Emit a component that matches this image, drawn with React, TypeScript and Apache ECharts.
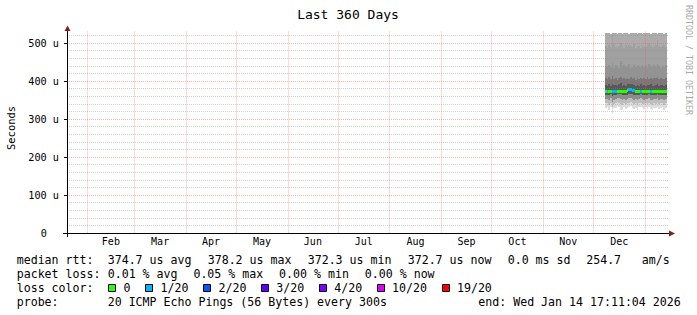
import React, { useEffect, useRef } from 'react';
import * as echarts from 'echarts';

// ---------- time range / axes ----------
const DAY_MS = 86400000;
const END_TIME = Date.UTC(2026, 0, 14, 17, 11, 4);
const START_TIME = END_TIME - 360 * DAY_MS;

const MONTH_NAMES = ['Feb', 'Mar', 'Apr', 'May', 'Jun', 'Jul', 'Aug', 'Sep', 'Oct', 'Nov', 'Dec'];
const MONTH_STARTS = [
  Date.UTC(2025, 1, 1), Date.UTC(2025, 2, 1), Date.UTC(2025, 3, 1), Date.UTC(2025, 4, 1),
  Date.UTC(2025, 5, 1), Date.UTC(2025, 6, 1), Date.UTC(2025, 7, 1), Date.UTC(2025, 8, 1),
  Date.UTC(2025, 9, 1), Date.UTC(2025, 10, 1), Date.UTC(2025, 11, 1), Date.UTC(2026, 0, 1),
];
const MONTH_MIDS = MONTH_NAMES.map((_, i) => (MONTH_STARTS[i] + MONTH_STARTS[i + 1]) / 2);

const Y_MAX = 530;
const Y_MAJOR = 100;
const Y_MINOR = 20;

// ---------- smoke data (daily, microseconds) ----------
const SMOKE_FIRST_DAY = Date.UTC(2025, 11, 8);
// sorted ping boundaries, lowest -> highest
const PING_B0 = [330, 331, 325, 332, 312, 328, 330, 333, 331, 324, 326, 331, 327, 330, 332, 333, 329, 326, 330, 325, 331, 332, 328, 326, 331, 327, 332, 326, 325, 330, 328, 332, 326, 330, 331, 325, 329];
const PING_B1 = [341, 342, 338, 343, 332, 340, 342, 344, 343, 339, 338, 342, 340, 341, 343, 344, 341, 339, 341, 338, 342, 343, 340, 339, 342, 340, 343, 339, 338, 342, 340, 343, 339, 341, 342, 338, 341];
const PING_B2 = [352, 353, 350, 354, 346, 351, 353, 355, 354, 352, 350, 353, 351, 352, 354, 355, 353, 351, 352, 350, 353, 354, 352, 351, 353, 352, 354, 351, 350, 353, 352, 354, 351, 352, 353, 350, 352];
const PING_B3 = [363, 364, 362, 365, 360, 363, 364, 366, 367, 366, 364, 363, 362, 364, 365, 366, 365, 363, 364, 362, 363, 365, 364, 362, 363, 364, 365, 363, 362, 364, 363, 365, 362, 364, 363, 362, 364];
const PING_B4 = [390, 388, 391, 387, 393, 389, 390, 386, 392, 394, 388, 390, 387, 391, 392, 393, 391, 389, 386, 390, 388, 391, 387, 389, 388, 390, 389, 391, 387, 388, 390, 392, 388, 389, 390, 387, 389];
const PING_B5 = [408, 405, 410, 404, 412, 406, 409, 403, 407, 411, 405, 408, 404, 409, 406, 410, 405, 407, 403, 408, 406, 409, 404, 407, 405, 410, 406, 408, 404, 407, 409, 411, 405, 408, 406, 404, 407];
const PING_B6 = [440, 436, 443, 438, 447, 435, 441, 439, 434, 452, 437, 442, 436, 440, 445, 433, 438, 441, 437, 443, 439, 436, 442, 438, 440, 435, 444, 439, 436, 441, 437, 446, 439, 434, 440, 437, 442];
const PING_B7 = [492, 488, 495, 490, 521, 497, 489, 486, 493, 500, 491, 487, 494, 489, 496, 492, 490, 498, 488, 493, 491, 487, 495, 490, 489, 494, 497, 492, 488, 490, 495, 508, 493, 489, 492, 496, 490];
const PING_B8 = [526, 527, 526, 525, 527, 526, 526, 525, 527, 526, 524, 526, 527, 526, 525, 526, 527, 526, 526, 525, 527, 526, 525, 526, 527, 526, 526, 524, 526, 527, 526, 525, 526, 527, 526, 525, 526];
const MEDIAN_RTT = [373, 374, 373, 374, 375, 373, 374, 374, 373, 374, 374, 373, 374, 377, 378, 378, 377, 376, 374, 373, 374, 375, 374, 373, 374, 374, 373, 374, 373, 374, 374, 373, 374, 373, 374, 373, 374];
const LOSS_COUNT = [0, 1, 0, 0, 1, 1, 1, 0, 0, 0, 0, 0, 0, 0, 1, 1, 1, 1, 0, 0, 0, 1, 0, 0, 0, 0, 0, 1, 0, 0, 0, 0, 0, 0, 0, 0, 0];

const BOUNDS = [PING_B0, PING_B1, PING_B2, PING_B3, PING_B4, PING_B5, PING_B6, PING_B7, PING_B8];
const LAYER_COLORS = ['#dcdcdc', '#bdbdbd', '#8c8c8c', '#585858', '#787878', '#939393', '#a0a0a0', '#acacac'];

// ---------- legend ----------
const LOSS_THRESHOLDS = [0, 1, 2, 3, 4, 10, 19];
const LOSS_LABELS = ['0', '1/20', '2/20', '3/20', '4/20', '10/20', '19/20'];
const LOSS_COLORS = ['#26ff00', '#00b8ff', '#0059ff', '#5e00ff', '#7e00ff', '#dd00ff', '#ff0000'];

const RTT_ITEMS = ['374.7 us avg', '378.2 us max', '372.3 us min', '372.7 us now', '0.0 ms sd', '254.7', 'am/s'];
const LOSS_ITEMS = ['0.01 % avg', '0.05 % max', '0.00 % min', '0.00 % now'];
const PROBE_TEXT = '20 ICMP Echo Pings (56 Bytes) every 300s';
const END_TEXT = 'end: Wed Jan 14 17:11:04 2026';
const TITLE = 'Last 360 Days';
const Y_NAME = 'Seconds';
const WATERMARK = 'RRDTOOL / TOBI OETIKER';

// ---------- layout ----------
const MONO = '"DejaVu Sans Mono", monospace';
const CHAR_W = 6.97;
const RTT_X = [107.7, 207.7, 307.7, 407.7, 507.7, 586.2, 641.7];
const ROW_Y = [260, 273.6, 287.6, 301.6];

function lossColor(n: number) {
  let idx = 0;
  for (let i = 0; i < LOSS_THRESHOLDS.length; i++) if (n >= LOSS_THRESHOLDS[i]) idx = i;
  return LOSS_COLORS[idx];
}

function legendText(text: string, x: number, y: number, extra: any = {}) {
  return {
    type: 'text',
    x,
    y,
    z: 20,
    silent: true,
    style: {
      text,
      fontFamily: MONO,
      fontSize: 11.6,
      fill: '#000',
      align: 'left',
      verticalAlign: 'middle',
      textAlign: 'left',
      textVerticalAlign: 'middle',
      ...extra,
    },
  };
}

export default function App() {
  const ref = useRef<HTMLDivElement>(null);

  useEffect(() => {
    if (!ref.current) return;
    const chart = echarts.init(ref.current, undefined, { renderer: 'svg' });

    const smokeData = PING_B0.map((_, i) => [SMOKE_FIRST_DAY + i * DAY_MS, ...BOUNDS.map((b) => b[i])]);
    const medianData = MEDIAN_RTT.map((v, i) => [SMOKE_FIRST_DAY + i * DAY_MS, v, LOSS_COUNT[i]]);

    const MAJOR_COLOR = 'rgba(245,79,79,0.42)';
    const MINOR_COLOR = 'rgba(140,140,140,0.4)';
    const minorColors: string[] = [];
    for (let v = 0; v <= Y_MAX; v += Y_MINOR) minorColors.push(v % Y_MAJOR === 0 ? 'rgba(0,0,0,0)' : MINOR_COLOR);

    const graphics: any[] = [];
    graphics.push({
      type: 'text', x: 348, y: 14, z: 20, silent: true,
      style: { text: TITLE, fontFamily: MONO, fontSize: 13, fill: '#000', align: 'center', verticalAlign: 'middle', textAlign: 'center', textVerticalAlign: 'middle' },
    });
    graphics.push({
      type: 'text', x: 10.5, y: 128, rotation: Math.PI / 2, z: 20, silent: true,
      style: { text: Y_NAME, fontFamily: MONO, fontSize: 10.4, fill: '#000', align: 'center', verticalAlign: 'middle', textAlign: 'center', textVerticalAlign: 'middle' },
    });
    graphics.push({
      type: 'text', x: 688.5, y: 60, rotation: -Math.PI / 2, z: 20, silent: true,
      style: { text: WATERMARK, fontFamily: MONO, fontSize: 8.3, fill: '#aaaaaa', align: 'center', verticalAlign: 'middle', textAlign: 'center', textVerticalAlign: 'middle' },
    });
    // axis extensions + arrows
    graphics.push({ type: 'line', z: 20, silent: true, shape: { x1: 63, y1: 233.5, x2: 670, y2: 233.5 }, style: { stroke: '#000', lineWidth: 1 } });
    graphics.push({ type: 'line', z: 20, silent: true, shape: { x1: 67.5, y1: 237, x2: 67.5, y2: 29 }, style: { stroke: '#000', lineWidth: 1 } });
    graphics.push({ type: 'polygon', z: 21, silent: true, shape: { points: [[669, 230.5], [669, 236.5], [675, 233.5]] }, style: { fill: '#7f1f1f' } });
    graphics.push({ type: 'polygon', z: 21, silent: true, shape: { points: [[64.5, 31], [70.5, 31], [67.5, 25.5]] }, style: { fill: '#7f1f1f' } });

    // legend rows
    graphics.push(legendText('median rtt:', 16.7, ROW_Y[0]));
    RTT_ITEMS.forEach((t, i) => graphics.push(legendText(t, RTT_X[i], ROW_Y[0])));
    graphics.push(legendText('packet loss:', 16.7, ROW_Y[1]));
    LOSS_ITEMS.forEach((t, i) => graphics.push(legendText(t, 107.7 + i * (10 * CHAR_W + 16), ROW_Y[1])));
    graphics.push(legendText('loss color:', 16.7, ROW_Y[2]));
    let sx = 108.3;
    LOSS_LABELS.forEach((t, i) => {
      graphics.push({
        type: 'rect', z: 20, silent: true,
        shape: { x: Math.round(sx) + 0.5, y: 284.5, width: 7, height: 7 },
        style: { fill: LOSS_COLORS[i], stroke: '#000', lineWidth: 1 },
      });
      graphics.push(legendText(t, sx + 15.3, ROW_Y[2]));
      sx = sx + 15.3 + t.length * CHAR_W + 14.7;
    });
    graphics.push(legendText('probe:', 16.7, ROW_Y[3]));
    graphics.push(legendText(PROBE_TEXT, 107.7, ROW_Y[3]));
    graphics.push(legendText(END_TEXT, 478.3, ROW_Y[3]));

    const option: any = {
      animation: false,
      backgroundColor: '#ffffff',
      grid: { left: 67, right: 29, top: 31.6, bottom: 82, containLabel: false, outerBoundsMode: 'none' },
      xAxis: {
        type: 'value',
        min: START_TIME,
        max: END_TIME,
        z: 5,
        axisLine: { show: true, lineStyle: { color: '#000', width: 1 } },
        axisTick: { show: false, customValues: MONTH_STARTS.slice(0, 12) },
        axisLabel: {
          customValues: MONTH_MIDS,
          margin: 3,
          fontFamily: MONO,
          fontSize: 10,
          color: '#000',
          hideOverlap: false,
          formatter: (v: number) => {
            let best = 0;
            let bd = Infinity;
            MONTH_MIDS.forEach((m, i) => {
              const d = Math.abs(m - v);
              if (d < bd) { bd = d; best = i; }
            });
            return MONTH_NAMES[best];
          },
        },
        splitLine: { show: true, lineStyle: { color: MAJOR_COLOR, type: [1, 1], width: 1 } },
      },
      yAxis: [
        {
          type: 'value',
          min: 0,
          max: Y_MAX,
          interval: Y_MAJOR,
          z: 6,
          axisLine: { show: true, lineStyle: { color: '#000', width: 1 } },
          axisTick: { show: true, length: 3, lineStyle: { color: '#000' } },
          axisLabel: {
            margin: 8,
            fontFamily: MONO,
            fontSize: 10.2,
            color: '#000',
            showMaxLabel: false,
            formatter: (v: number) => (v === 0 ? '{z|0}' : v % Y_MAJOR === 0 ? `${v} u` : ''),
            rich: { z: { fontFamily: MONO, fontSize: 10.2, color: '#000', padding: [0, 12, 0, 0] } },
          },
          splitLine: { show: true, showMaxLine: false, lineStyle: { color: MAJOR_COLOR, type: [1, 1], width: 1 } },
        },
        {
          type: 'value',
          min: 0,
          max: Y_MAX,
          interval: Y_MINOR,
          z: 5,
          axisLine: { show: false },
          axisTick: { show: false },
          axisLabel: { show: false },
          splitLine: { show: true, showMaxLine: false, lineStyle: { color: minorColors, type: [1, 1], width: 1 } },
        },
      ],
      series: [
        {
          type: 'custom',
          z: 1,
          silent: true,
          xAxisIndex: 0,
          yAxisIndex: 0,
          encode: { x: 0, y: [1, 2, 3, 4, 5, 6, 7, 8, 9] },
          data: smokeData,
          renderItem: (params: any, api: any) => {
            const t = api.value(0);
            const t1 = Math.min(t + DAY_MS, END_TIME);
            const xs = Math.round(api.coord([t, 0])[0]);
            const xe = Math.round(api.coord([t1, 0])[0]);
            const children: any[] = [];
            for (let k = 0; k < LAYER_COLORS.length; k++) {
              const y0 = Math.round(api.coord([t, api.value(1 + k)])[1]);
              const y1 = Math.round(api.coord([t, api.value(2 + k)])[1]);
              children.push({
                type: 'rect',
                shape: { x: xs, y: y1, width: xe - xs, height: Math.max(0, y0 - y1) },
                style: { fill: LAYER_COLORS[k] },
              });
            }
            return { type: 'group', children };
          },
        },
        {
          type: 'custom',
          z: 2,
          silent: true,
          xAxisIndex: 0,
          yAxisIndex: 0,
          encode: { x: 0, y: 1 },
          data: medianData,
          renderItem: (params: any, api: any) => {
            const t = api.value(0);
            const t1 = Math.min(t + DAY_MS, END_TIME);
            const xs = Math.round(api.coord([t, 0])[0]);
            const xe = Math.round(api.coord([t1, 0])[0]);
            const y = Math.round(api.coord([t, api.value(1)])[1]);
            return {
              type: 'rect',
              shape: { x: xs, y: y - 1, width: xe - xs, height: 3 },
              style: { fill: lossColor(api.value(2)) },
            };
          },
        },
      ],
      graphic: graphics,
    };

    chart.setOption(option);
    return () => chart.dispose();
  }, []);

  return <div ref={ref} style={{ position: 'absolute', left: 0, top: 0, width: 697, height: 315 }} />;
}
